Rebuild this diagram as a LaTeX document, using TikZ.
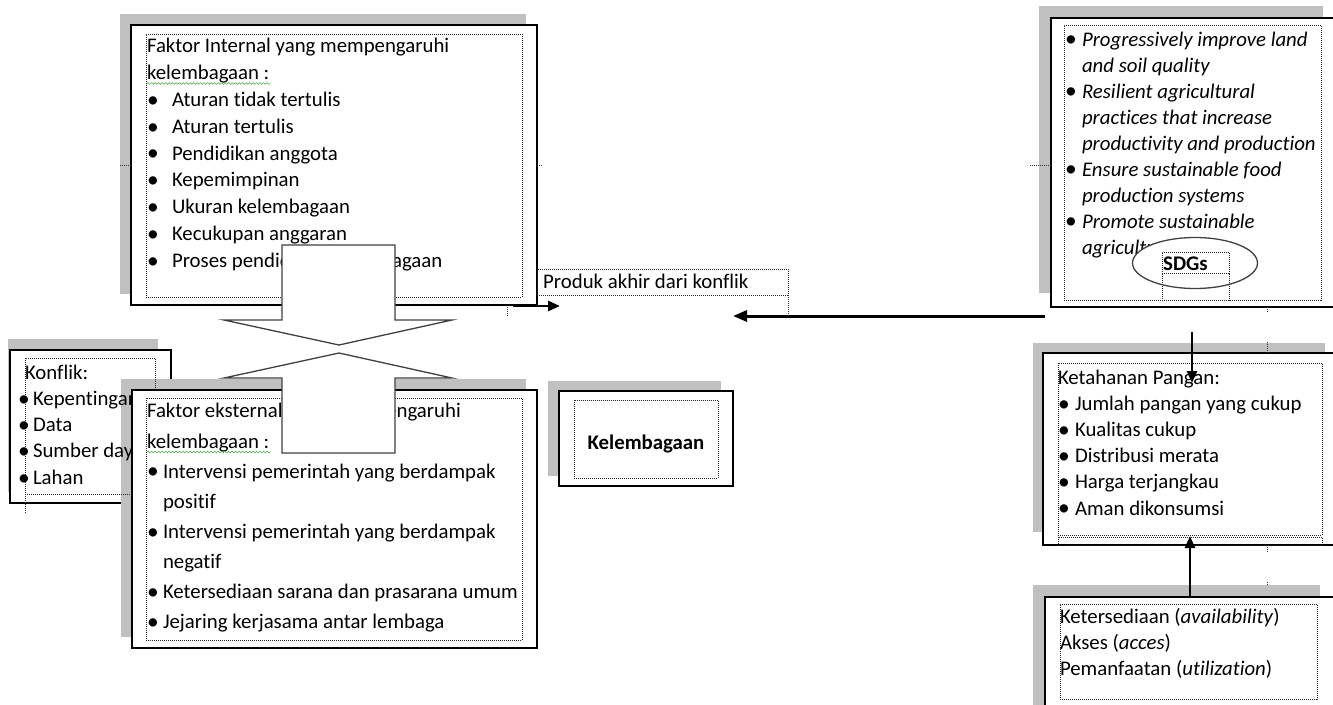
\documentclass[tikz,border=0pt]{standalone}
\usepackage{fontspec}
\setmainfont{Carlito}[Ligatures=NoCommon]
\usetikzlibrary{arrows.meta,shapes.geometric,decorations.pathmorphing}
\definecolor{shgray}{RGB}{192,192,192}
\definecolor{wavygreen}{RGB}{70,170,70}
\newcommand\boxat[6]{%
  \node[#1, minimum width={(#5-#3)*1pt}, minimum height={(#6-#4)*1pt}] (#2) at ({(#3+#5)/2},{(#4+#6)/2}) {};}
\newcommand\bigdot{\raisebox{-0.8pt}{\fontsize{23.5}{23.5}\selectfont\textbullet}}
\newcommand\mybul[1]{\makebox[#1][l]{\bigdot}}
\newcommand\myind[1]{\hspace*{#1}}
\newcommand\kbul{\makebox[8pt][l]{\hspace*{-7pt}\bigdot}}
\begin{document}
\begin{tikzpicture}[x=1pt,y=-1pt,
  shadowbox/.style={rectangle, fill=shgray, draw=none, inner sep=0pt, outer sep=0pt},
  mainbox/.style={rectangle, fill=white, draw=black, line width=1.3pt, inner sep=0pt, outer sep=0pt},
  dotbox/.style={rectangle, draw=black!85, line width=0.8pt, dash pattern=on 1pt off 1pt, inner sep=0pt, outer sep=0pt},
  txt/.style={anchor=north west, inner sep=0pt, outer sep=0pt, align=left, text=black, font=\fontsize{20.8}{26.8}\selectfont},
  dblarrow/.style={draw=black!75, fill=white, line width=1.3pt, line join=miter},
  bigarr/.style={line width=2.6pt, -{Triangle[length=12pt,width=10pt]}},
  wavy/.style={draw=wavygreen, line width=0.6pt, decorate, decoration={snake, amplitude=0.9pt, segment length=3.5pt}},
  dottick/.style={draw=black!80, line width=0.8pt, dash pattern=on 1pt off 1pt}]
\useasboundingbox (0,0) rectangle (1333,704);

% ---------- internal factors ----------
\boxat{shadowbox}{intsh}{120}{14}{526}{294}
\boxat{mainbox}{intbox}{131}{25}{537}{305}
\boxat{dotbox}{intdot}{146}{34}{522}{297}
\node[txt] (inttext) at (147,34.2) {\strut Faktor Internal yang mempengaruhi\\
 kelembagaan :\\
 \mybul{25pt}Aturan tidak tertulis\\
 \mybul{25pt}Aturan tertulis\\
 \mybul{25pt}Pendidikan anggota\\
 \mybul{25pt}Kepemimpinan\\
 \mybul{25pt}Ukuran kelembagaan\\
 \mybul{25pt}Kecukupan anggaran\\
 \mybul{25pt}Proses pendidikan kelembagaan};
\draw[wavy] (147,83.5) -- (270,83.5);
\draw[dottick] (120,165) -- (131,165);
\draw[dottick] (537,165) -- (543,165);

% ---------- konflik ----------
\boxat{shadowbox}{konsh}{8}{339}{158}{492}
\boxat{mainbox}{konbox}{10}{350}{171}{503}

% ---------- external factors (shadow first) ----------
\boxat{shadowbox}{extsh}{121}{379}{526}{637}

\boxat{dotbox}{kondot}{25}{358}{155}{494}
\draw[dottick] (kondot.south west) -- ++(0,19);
\node[txt, font=\fontsize{20.8}{26.3}\selectfont] (konftext) at (25,360.6) {\strut Konflik:\\
 \kbul Kepentingan\\
 \kbul Data\\
 \kbul Sumber daya\\
 \kbul Lahan};

\boxat{mainbox}{extbox}{132}{390}{537}{648}
\boxat{dotbox}{extdot}{146}{398}{522}{640}
\node[txt, font=\fontsize{20.8}{30.1}\selectfont] (exttext) at (147,396.9) {\strut Faktor eksternal yang mempengaruhi\\
 kelembagaan :\\
 \mybul{16pt}Intervensi pemerintah yang berdampak\\
 \myind{16pt}positif\\
 \mybul{16pt}Intervensi pemerintah yang berdampak\\
 \myind{16pt}negatif\\
 \mybul{16pt}Ketersediaan sarana dan prasarana umum\\
 \mybul{16pt}Jejaring kerjasama antar lembaga};
\draw[wavy] (147,452) -- (270,452);

% ---------- up/down arrow ----------
\draw[dblarrow] (282,245) -- (395,245) -- (395,320) -- (452,320) -- (339,345) -- (224,320) -- (282,320) -- cycle;
\draw[dblarrow] (339,353) -- (452,378) -- (395,378) -- (395,453) -- (282,453) -- (282,378) -- (224,378) -- cycle;

% ---------- produk akhir ----------
\boxat{dotbox}{prodot}{537}{269}{788}{295}
\node[anchor=base west, inner sep=0pt, font=\fontsize{20.8}{26.8}\selectfont] (protext) at (543,288) {Produk akhir dari konflik};
\draw[dottick] (prodot.south east) -- ++(0,21);
\draw[dottick] (507,307) -- (507,316);
\coordinate (sa1) at (513,306);
\coordinate (sa2) at (560,306);
\draw[bigarr] (sa1) -- (sa2);

% ---------- kelembagaan ----------
\boxat{shadowbox}{klsh}{548}{381}{721}{476}
\boxat{mainbox}{klbox}{559}{391}{733}{486}
\boxat{dotbox}{kldot}{574}{400}{718}{478}
\node[anchor=base, inner sep=0pt, font=\fontsize{20.8}{26.8}\selectfont\bfseries] (kltext) at (646,449) {Kelembagaan};

% ---------- SDGs ----------
\boxat{shadowbox}{sdgsh}{1039}{6}{1323}{293}
\boxat{mainbox}{sdgbox}{1051}{18}{1334}{307}
\boxat{dotbox}{sdgdot}{1064}{25}{1321}{300}
\node[txt, font=\fontsize{20.8}{26}\selectfont] (sdgtext) at (1065,27.8) {\strut\mybul{17pt}\textit{Progressively improve land}\\
 \myind{17pt}\textit{and soil quality}\\
 \mybul{17pt}\textit{Resilient agricultural}\\
 \myind{17pt}\textit{practices that increase}\\
 \myind{17pt}\textit{productivity and production}\\
 \mybul{17pt}\textit{Ensure sustainable food}\\
 \myind{17pt}\textit{production systems}\\
 \mybul{17pt}\textit{Promote sustainable}\\
 \myind{17pt}\textit{agriculture}};
\node[ellipse, draw=black!75, fill=white, line width=1.3pt, minimum width=125pt, minimum height=51pt, inner sep=0pt] (sdgell) at (1195,263) {};
\boxat{dotbox}{sdgf1}{1162}{252}{1229}{273}
\boxat{dotbox}{sdgf2}{1162}{273}{1229}{300}
\node[anchor=base west, inner sep=0pt, font=\fontsize{20.8}{26.8}\selectfont\bfseries] (sdglabel) at (1163,270) {SDGs};
\draw[dottick] (1030,165) -- (1051,165);
\draw[dottick] (1267,307) -- (1267,313);

% ---------- ketahanan pangan ----------
\boxat{shadowbox}{ketsh}{1033}{343}{1325}{532}
\boxat{mainbox}{ketbox}{1043}{353}{1336}{545}
\boxat{dotbox}{ketdot}{1058}{363}{1322}{535}
\boxat{dotbox}{ketdotb}{1058}{537}{1322}{545}
\node[txt, font=\fontsize{20.8}{26.2}\selectfont] (kettext) at (1058,365.7) {\strut Ketahanan Pangan:\\
 \mybul{17pt}Jumlah pangan yang cukup\\
 \mybul{17pt}Kualitas cukup\\
 \mybul{17pt}Distribusi merata\\
 \mybul{17pt}Harga terjangkau\\
 \mybul{17pt}Aman dikonsumsi};
\draw[dottick] (1267,342) -- (1267,353);
\draw[dottick] (1267,547) -- (1267,552);
\draw[dottick] (1267,582) -- (1267,597);

% ---------- ketersediaan ----------
\boxat{shadowbox}{ksdsh}{1033}{585}{1320}{720}
\boxat{mainbox}{ksdbox}{1045}{597}{1336}{730}
\boxat{dotbox}{ksddot}{1060}{604}{1317}{699}
\node[txt, font=\fontsize{20.8}{26}\selectfont] (ksdtext) at (1060,604.8) {\strut Ketersediaan (\textit{availability})\\
 Akses (\textit{acces})\\
 Pemanfaatan (\textit{utilization})};

% ---------- connectors ----------
\coordinate (va1) at (1192,332);
\coordinate (va2) at (1192,383);
\draw[bigarr] (va1) -- (va2);
\coordinate (vb1) at (1190,597);
\coordinate (vb2) at (1190,536);
\draw[bigarr] (vb1) -- (vb2);
\coordinate (la1) at (1045,316);
\coordinate (la2) at (733,316);
\draw[line width=3pt, -{Triangle[length=14pt,width=11pt]}] (la1) -- (la2);
\end{tikzpicture}
\end{document}
